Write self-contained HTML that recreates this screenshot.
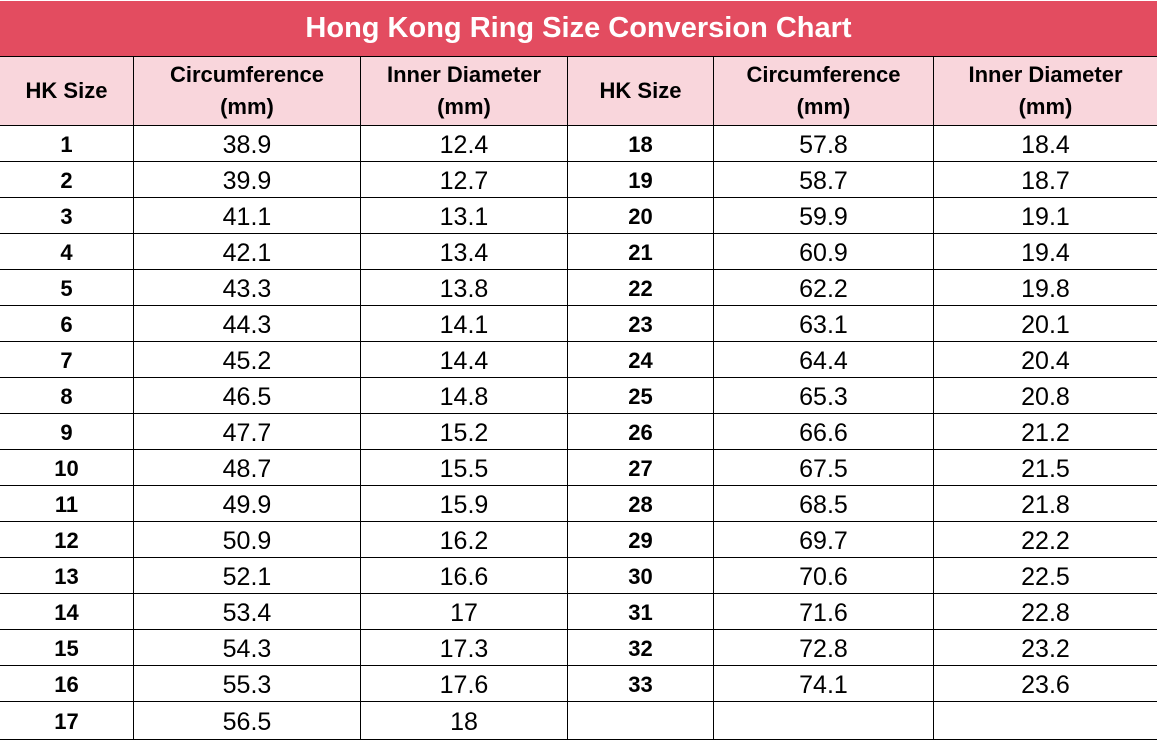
<!DOCTYPE html>
<html><head><meta charset="utf-8"><style>
body{margin:0;width:1157px;height:743px;background:#fff;overflow:hidden;font-family:"Liberation Sans",sans-serif}
.title{position:absolute;left:0;top:1px;width:1157px;height:55px;background:#E34C60;color:#fff;font-weight:bold;font-size:29px;line-height:55px;text-align:center}
.g{position:absolute;left:0;top:56px;width:1157px;display:grid;grid-template-columns:133px 226px 206px 145px 219px 1fr;grid-template-rows:68px repeat(16,35px) 37px;gap:1px;background:#000;padding:1px 0}
.g div{background:#fff;display:flex;align-items:center;justify-content:center;text-align:center;font-size:25px;color:#000;padding-top:3px;box-sizing:border-box}
.g .h{background:#F9D6DC;font-size:22px;line-height:32px;font-weight:bold;padding-top:0}
.g .b{font-weight:bold;font-size:22px}
</style></head><body>
<div class="title">Hong Kong Ring Size Conversion Chart</div>
<div class="g">
<div class="h">HK Size</div><div class="h">Circumference<br>(mm)</div><div class="h">Inner Diameter<br>(mm)</div><div class="h">HK Size</div><div class="h">Circumference<br>(mm)</div><div class="h">Inner Diameter<br>(mm)</div>
<div class="b">1</div><div>38.9</div><div>12.4</div><div class="b">18</div><div>57.8</div><div>18.4</div>
<div class="b">2</div><div>39.9</div><div>12.7</div><div class="b">19</div><div>58.7</div><div>18.7</div>
<div class="b">3</div><div>41.1</div><div>13.1</div><div class="b">20</div><div>59.9</div><div>19.1</div>
<div class="b">4</div><div>42.1</div><div>13.4</div><div class="b">21</div><div>60.9</div><div>19.4</div>
<div class="b">5</div><div>43.3</div><div>13.8</div><div class="b">22</div><div>62.2</div><div>19.8</div>
<div class="b">6</div><div>44.3</div><div>14.1</div><div class="b">23</div><div>63.1</div><div>20.1</div>
<div class="b">7</div><div>45.2</div><div>14.4</div><div class="b">24</div><div>64.4</div><div>20.4</div>
<div class="b">8</div><div>46.5</div><div>14.8</div><div class="b">25</div><div>65.3</div><div>20.8</div>
<div class="b">9</div><div>47.7</div><div>15.2</div><div class="b">26</div><div>66.6</div><div>21.2</div>
<div class="b">10</div><div>48.7</div><div>15.5</div><div class="b">27</div><div>67.5</div><div>21.5</div>
<div class="b">11</div><div>49.9</div><div>15.9</div><div class="b">28</div><div>68.5</div><div>21.8</div>
<div class="b">12</div><div>50.9</div><div>16.2</div><div class="b">29</div><div>69.7</div><div>22.2</div>
<div class="b">13</div><div>52.1</div><div>16.6</div><div class="b">30</div><div>70.6</div><div>22.5</div>
<div class="b">14</div><div>53.4</div><div>17</div><div class="b">31</div><div>71.6</div><div>22.8</div>
<div class="b">15</div><div>54.3</div><div>17.3</div><div class="b">32</div><div>72.8</div><div>23.2</div>
<div class="b">16</div><div>55.3</div><div>17.6</div><div class="b">33</div><div>74.1</div><div>23.6</div>
<div class="b">17</div><div>56.5</div><div>18</div><div></div><div></div><div></div>
</div>
</body></html>
